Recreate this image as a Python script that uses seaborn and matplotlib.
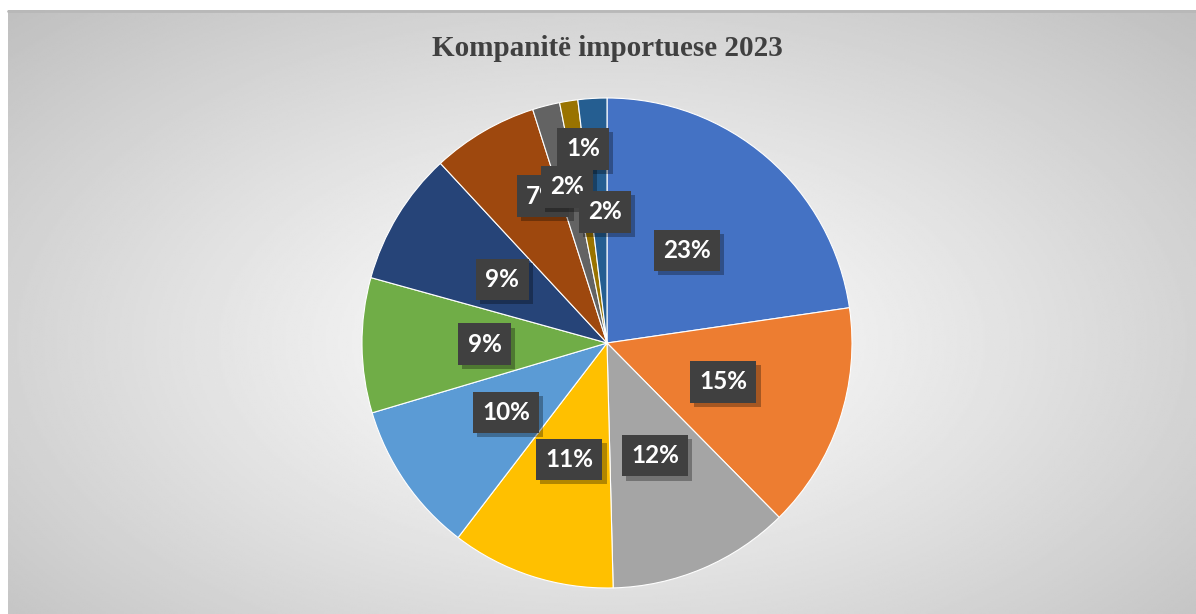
import numpy as np
import seaborn as sns
import matplotlib.pyplot as plt
import matplotlib.patheffects as pe
from matplotlib.lines import Line2D

# shares (clockwise from 12 o'clock)
companies = ["K1", "K2", "K3", "K4", "K5", "K6", "K7", "K8", "K9", "K10", "K11"]
shares = [22.7, 14.9, 12.0, 10.8, 10.0, 8.9, 8.8, 7.0, 1.8, 1.2, 1.9]
colors = ["#4472C4", "#ED7D31", "#A5A5A5", "#FFC000", "#5B9BD5", "#70AD47",
          "#264478", "#9E480E", "#636363", "#997300", "#255E91"]
title = "Kompanitë importuese 2023"

# manually moved labels of the small slices (data coords, pie radius = 1)
moved_labels = {7: (-0.26, 0.60), 8: (-0.163, 0.637), 9: (-0.098, 0.792), 10: (-0.008, 0.535)}

sns.set_theme(style="white")
W, H = 1196, 614
fig = plt.figure(figsize=(W / 100, H / 100), dpi=100)
fig.patch.set_facecolor("white")

# radial gradient background
bg = fig.add_axes([8 / W, 0, 1 - 8 / W, 1 - 10 / H])
yy, xx = np.mgrid[0:1:300j, 0:1:600j]
d = np.sqrt(((xx - 0.5) / 0.5) ** 2 + ((yy - 0.55) / 0.55) ** 2) / np.sqrt(2)
grad = 1 - 0.25 * np.clip(d, 0, 1) ** 1.1
bg.imshow(grad, cmap="gray", vmin=0, vmax=1, aspect="auto", extent=[0, 1, 0, 1])
bg.axis("off")
fig.add_artist(Line2D([8 / W, 1], [1 - 11 / H] * 2, color="#b8b8b8", lw=2, transform=fig.transFigure))

R = 245
cx, cy = 607, 343
ax = fig.add_axes([(cx - R) / W, (H - cy - R) / H, 2 * R / W, 2 * R / H])
ax.patch.set_alpha(0)
wedges, texts, autotexts = ax.pie(
    shares, colors=colors, startangle=90, counterclock=False,
    autopct="%.0f%%", pctdistance=0.5,
    wedgeprops=dict(edgecolor="white", linewidth=0.8),
    textprops=dict(color="white", fontsize=17.5, fontweight="bold", family=["Lato", "DejaVu Sans"]),
)
ax.set_xlim(-1, 1)
ax.set_ylim(-1, 1)

order = [0, 1, 2, 3, 4, 5, 6, 7, 9, 8, 10]
for z, i in enumerate(order):
    t = autotexts[i]
    if i in moved_labels:
        t.set_position(moved_labels[i])
    t.set_bbox(dict(boxstyle="square,pad=0.38", facecolor="#404040", edgecolor="none"))
    t.get_bbox_patch().set_path_effects([
        pe.SimplePatchShadow(offset=(3, -3), shadow_rgbFace="black", alpha=0.3),
        pe.Normal(),
    ])
    t.set_zorder(10 + z)

fig.text(cx / W, 1 - 48 / H, title, ha="center", va="center", fontsize=21,
         fontweight="bold", color="#404040", family=["Liberation Serif", "DejaVu Serif"])

fig.savefig("out.png", dpi=100)
